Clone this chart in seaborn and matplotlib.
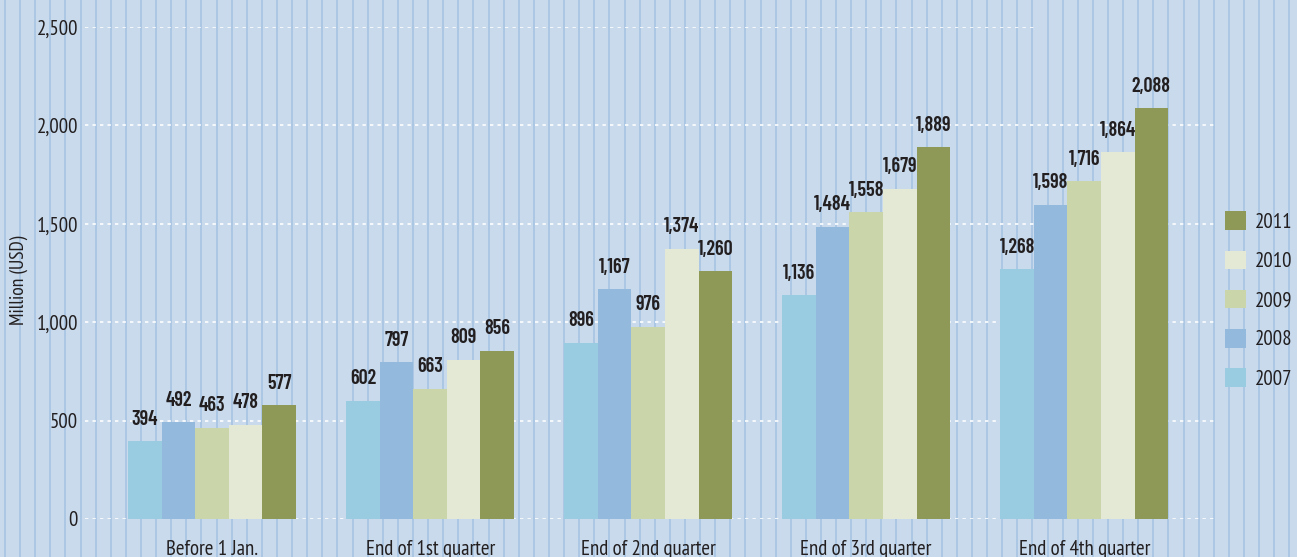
import matplotlib
matplotlib.use("Agg")
import matplotlib.pyplot as plt
import matplotlib.patches as mpatches
from matplotlib import font_manager
import numpy as np
import pandas as pd
import seaborn as sns

# ── Data ─────────────────────────────────────────────────────────────────────
STAGES = ["Before 1 Jan.", "End of 1st quarter", "End of 2nd quarter",
          "End of 3rd quarter", "End of 4th quarter"]
YEARS = ["2007", "2008", "2009", "2010", "2011"]
V2007 = [394, 602, 896, 1136, 1268]
V2008 = [492, 797, 1167, 1484, 1598]
V2009 = [463, 663, 976, 1558, 1716]
V2010 = [478, 809, 1374, 1679, 1864]
V2011 = [577, 856, 1260, 1889, 2088]

COLORS = ["#99CCE1", "#93BADC", "#CBD5AA", "#E3E9D4", "#8E9957"]
BG = "#C8DAEC"
STRIPE = "#A6C4E3"
INK = "#231F20"

names = {f.name for f in font_manager.fontManager.ttflist}


def pick(prefs):
    for p in prefs:
        if p in names:
            return p
    return "DejaVu Sans"


FONT = pick(["PT Sans Narrow", "Roboto Condensed", "Archivo Narrow",
             "Fira Sans Condensed", "Open Sans Condensed"])
BOLD_FONT = pick(["Barlow Condensed", "Fira Sans Extra Condensed",
                  "Roboto Condensed", "PT Sans Narrow"])

sns.set_theme(style="white")
plt.rcParams["font.family"] = [FONT, "DejaVu Sans"]

rows = []
for year, vals in zip(YEARS, [V2007, V2008, V2009, V2010, V2011]):
    for stage, v in zip(STAGES, vals):
        rows.append({"stage": stage, "year": year, "value": v})
df = pd.DataFrame(rows)

W, H = 1297, 557
fig = plt.figure(figsize=(W / 100, H / 100), dpi=100, facecolor=BG)

# ── Striped background ───────────────────────────────────────────────────────
bg = fig.add_axes([0, 0, 1, 1], zorder=-5)
bg.set_xlim(0, W)
bg.set_ylim(0, H)
bg.axis("off")
for x in np.arange(5, W, 15.11):
    bg.axvline(x, color=STRIPE, lw=1.2)

# ── Main axes ────────────────────────────────────────────────────────────────
ax = fig.add_axes([85 / W, 38 / H, 1130 / W, 492 / H], zorder=1)
ax.patch.set_alpha(0)

sns.barplot(data=df, x="stage", y="value", hue="year", hue_order=YEARS,
            palette=COLORS, saturation=1, width=0.77, ax=ax, legend=False,
            errorbar=None, edgecolor="none", linewidth=0, zorder=3)

for cont in ax.containers:
    ax.bar_label(cont, labels=[f"{int(b.get_height()):,}" for b in cont],
                 padding=9, fontsize=14.5, fontweight="semibold",
                 color=INK, family=[BOLD_FONT, "DejaVu Sans"])

ax.set_xlim(-0.583, 4.60)
ax.set_ylim(0, 2500)
ax.set_yticks([0, 500, 1000, 1500, 2000, 2500])
ax.set_yticklabels(["0", "500", "1,000", "1,500", "2,000", "2,500"])
for y in [0, 500, 1000, 1500, 2000]:
    ax.axhline(y, color="white", lw=1.2, ls=(0, (2, 2.5)), zorder=2)
ax.axhline(2500, xmax=0.84, color="white", lw=1.2, ls=(0, (2, 2.5)), zorder=2)

for s in ax.spines.values():
    s.set_visible(False)
ax.tick_params(axis="y", length=0, pad=5, labelsize=15, labelcolor=INK)
ax.tick_params(axis="x", length=0, pad=15, labelsize=15, labelcolor=INK)
ax.set_xlabel("")
ax.set_ylabel("")
fig.text(19 / W, 1 - 280 / H, "Million (USD)", rotation=90, ha="center",
         va="center", fontsize=14, color=INK)

# ── Legend ───────────────────────────────────────────────────────────────────
handles = [mpatches.Patch(facecolor=c, edgecolor="none") for c in COLORS][::-1]
fig.legend(handles, YEARS[::-1], loc="upper left",
           bbox_to_anchor=(1217 / W, 1 - 203 / H), frameon=False,
           fontsize=15, handlelength=1.0, handleheight=1.0,
           labelspacing=0.9, handletextpad=0.4, borderaxespad=0,
           labelcolor=INK)

fig.savefig("out.png", dpi=100, facecolor=BG)
